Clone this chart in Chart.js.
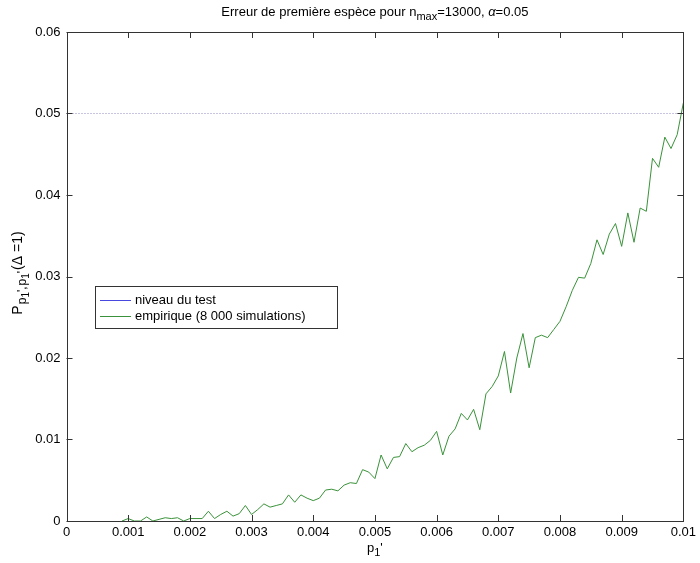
<!DOCTYPE html>
<html>
<head>
<meta charset="utf-8">
<script src="https://cdn.jsdelivr.net/npm/chart.js@4.4.1/dist/chart.umd.min.js"></script>
<style>
  html, body { margin: 0; padding: 0; background: #ffffff; }
  #wrap { width: 700px; height: 563px; position: relative; }
</style>
</head>
<body>
<div id="wrap"><canvas id="c" width="700" height="563"></canvas></div>
<script>
// ---- data ----
const pValues = [
  0.0009, 0.0010, 0.0011, 0.0012, 0.0013, 0.0014, 0.0015, 0.0016, 0.0017, 0.0018,
  0.0019, 0.0020, 0.0021, 0.0022, 0.0023, 0.0024, 0.0025, 0.0026, 0.0027, 0.0028,
  0.0029, 0.0030, 0.0031, 0.0032, 0.0033, 0.0034, 0.0035, 0.0036, 0.0037, 0.0038,
  0.0039, 0.0040, 0.0041, 0.0042, 0.0043, 0.0044, 0.0045, 0.0046, 0.0047, 0.0048,
  0.0049, 0.0050, 0.0051, 0.0052, 0.0053, 0.0054, 0.0055, 0.0056, 0.0057, 0.0058,
  0.0059, 0.0060, 0.0061, 0.0062, 0.0063, 0.0064, 0.0065, 0.0066, 0.0067, 0.0068,
  0.0069, 0.0070, 0.0071, 0.0072, 0.0073, 0.0074, 0.0075, 0.0076, 0.0077, 0.0078,
  0.0079, 0.0080, 0.0081, 0.0082, 0.0083, 0.0084, 0.0085, 0.0086, 0.0087, 0.0088,
  0.0089, 0.0090, 0.0091, 0.0092, 0.0093, 0.0094, 0.0095, 0.0096, 0.0097, 0.0098,
  0.0099, 0.0100
];
const empirique = [
  0.0000, 0.0003, 0.0000, 0.0000, 0.0005, 0.0000, 0.0002, 0.0004, 0.0003, 0.0004,
  0.0000, 0.0003, 0.0003, 0.0003, 0.0012, 0.0003, 0.0008, 0.0012, 0.0006, 0.0009,
  0.0019, 0.0008, 0.0014, 0.0021, 0.0017, 0.0019, 0.0021, 0.0032, 0.0023, 0.0032,
  0.0028, 0.0025, 0.0028, 0.0038, 0.0039, 0.0037, 0.0044, 0.0047, 0.0046, 0.0063,
  0.0060, 0.0052, 0.0081, 0.0064, 0.0078, 0.0079, 0.0095, 0.0085, 0.0090, 0.0093,
  0.0099, 0.0110, 0.0081, 0.0104, 0.0113, 0.0132, 0.0124, 0.0137, 0.0112, 0.0156,
  0.0165, 0.0178, 0.0208, 0.0157, 0.0200, 0.0230, 0.0188, 0.0225, 0.0228, 0.0225,
  0.0235, 0.0245, 0.0263, 0.0283, 0.0299, 0.0298, 0.0316, 0.0345, 0.0327, 0.0352,
  0.0365, 0.0337, 0.0378, 0.0342, 0.0384, 0.0380, 0.0445, 0.0434, 0.0471, 0.0457,
  0.0474, 0.0513
];
const niveauX = [0, 0.01];
const niveauY = [0.05, 0.05];
const seriesLabels = ['niveau du test', 'empirique (8 000 simulations)'];
const xTickValues = [0, 0.001, 0.002, 0.003, 0.004, 0.005, 0.006, 0.007, 0.008, 0.009, 0.01];
const xTickLabels = ['0', '0.001', '0.002', '0.003', '0.004', '0.005', '0.006', '0.007', '0.008', '0.009', '0.01'];
const yTickValues = [0, 0.01, 0.02, 0.03, 0.04, 0.05, 0.06];
const yTickLabels = ['0', '0.01', '0.02', '0.03', '0.04', '0.05', '0.06'];

const FONT = "'Liberation Sans', Arial, Helvetica, sans-serif";
const AXIS_COLOR = '#333333';

function drawRuns(ctx, runs, cx, baseY) {
  let total = 0;
  runs.forEach(r => { ctx.font = r.font; total += ctx.measureText(r.text).width + (r.gap || 0); });
  let x = cx - total / 2;
  ctx.textAlign = 'left';
  ctx.textBaseline = 'alphabetic';
  runs.forEach(r => {
    ctx.font = r.font;
    ctx.fillText(r.text, x, baseY + (r.dy || 0));
    x += ctx.measureText(r.text).width + (r.gap || 0);
  });
}

const decorPlugin = {
  id: 'decor',
  afterDraw(chart) {
    const ctx = chart.ctx;
    const a = chart.chartArea;
    const xs = chart.scales.x, ys = chart.scales.y;
    ctx.save();
    // box
    ctx.strokeStyle = AXIS_COLOR;
    ctx.lineWidth = 1;
    ctx.strokeRect(Math.round(a.left) + 0.5, Math.round(a.top) + 0.5,
                   Math.round(a.right) - Math.round(a.left), Math.round(a.bottom) - Math.round(a.top));
    // inward ticks
    const TL = 6;
    ctx.beginPath();
    xTickValues.forEach(v => {
      const px = Math.round(xs.getPixelForValue(v)) + 0.5;
      ctx.moveTo(px, a.bottom); ctx.lineTo(px, a.bottom - TL);
      ctx.moveTo(px, a.top); ctx.lineTo(px, a.top + TL);
    });
    yTickValues.forEach(v => {
      const py = Math.round(ys.getPixelForValue(v)) + 0.5;
      ctx.moveTo(a.left, py); ctx.lineTo(a.left + TL, py);
      ctx.moveTo(a.right, py); ctx.lineTo(a.right - TL, py);
    });
    ctx.stroke();

    ctx.fillStyle = '#000';
    const cx = (a.left + a.right) / 2;
    // title
    drawRuns(ctx, [
      { text: 'Erreur de première espèce pour n', font: '13px ' + FONT },
      { text: 'max', font: '11px ' + FONT, dy: 4 },
      { text: '=13000, ', font: '13px ' + FONT },
      { text: 'α', font: 'italic 13px ' + FONT },
      { text: '=0.05', font: '13px ' + FONT }
    ], cx, 16);
    // x label
    drawRuns(ctx, [
      { text: 'p', font: '13px ' + FONT },
      { text: '1', font: '11px ' + FONT, dy: 4 },
      { text: "'", font: '13px ' + FONT }
    ], cx, 552);
    // y label (rotated)
    ctx.save();
    ctx.translate(22, 273);
    ctx.rotate(-Math.PI / 2);
    drawRuns(ctx, [
      { text: 'P', font: '14px ' + FONT, gap: 1 },
      { text: 'p', font: '12px ' + FONT, dy: 4 },
      { text: '1', font: '10px ' + FONT, dy: 7 },
      { text: "',", font: '12px ' + FONT, dy: 4, gap: 1 },
      { text: 'p', font: '12px ' + FONT, dy: 4 },
      { text: '1', font: '10px ' + FONT, dy: 7 },
      { text: "'", font: '12px ' + FONT, dy: 4, gap: 1 },
      { text: '(Δ =1)', font: '14px ' + FONT }
    ], 0, 0);
    ctx.restore();

    // legend
    const lx = 95.5, ly = 286.5, lw = 242, lh = 42;
    ctx.fillStyle = '#fff';
    ctx.fillRect(lx, ly, lw, lh);
    ctx.strokeStyle = AXIS_COLOR;
    ctx.strokeRect(lx, ly, lw, lh);
    chart.data.datasets.forEach((ds, i) => {
      const yy = 300.5 + i * 16;
      ctx.strokeStyle = ds.legendColor;
      ctx.lineWidth = 1;
      ctx.beginPath();
      ctx.moveTo(100, yy); ctx.lineTo(131, yy);
      ctx.stroke();
      ctx.fillStyle = '#000';
      ctx.font = '13px ' + FONT;
      ctx.textAlign = 'left';
      ctx.textBaseline = 'middle';
      ctx.fillText(ds.label, 135, yy);
    });
    ctx.restore();
  }
};

new Chart(document.getElementById('c'), {
  type: 'line',
  data: {
    datasets: [
      {
        label: seriesLabels[0],
        data: niveauX.map((x, i) => ({ x: x, y: niveauY[i] })),
        borderColor: '#8c8cc4',
        legendColor: '#4848e0',
        borderWidth: 1,
        borderDash: [1, 2],
        pointRadius: 0,
        fill: false
      },
      {
        label: seriesLabels[1],
        data: pValues.map((x, i) => ({ x: x, y: empirique[i] })),
        borderColor: '#3a923a',
        legendColor: '#3a923a',
        borderWidth: 1,
        pointRadius: 0,
        tension: 0,
        fill: false
      }
    ]
  },
  options: {
    responsive: false,
    animation: false,
    events: [],
    layout: { padding: { top: 32, right: 13, left: 0, bottom: 0 } },
    plugins: { legend: { display: false }, title: { display: false }, tooltip: { enabled: false } },
    scales: {
      x: {
        type: 'linear', min: 0, max: 0.01,
        afterFit: s => { s.height = 42; },
        afterBuildTicks: s => { s.ticks = xTickValues.map(v => ({ value: v })); },
        grid: { display: false, drawTicks: false },
        border: { display: false },
        ticks: {
          autoSkip: false, maxRotation: 0, padding: 4, color: '#000',
          font: { family: FONT, size: 13 },
          callback: (v, i) => xTickLabels[i]
        }
      },
      y: {
        type: 'linear', min: 0, max: 0.06,
        afterFit: s => { s.width = 66.5; },
        afterBuildTicks: s => { s.ticks = yTickValues.map(v => ({ value: v })); },
        grid: { display: false, drawTicks: false },
        border: { display: false },
        ticks: {
          autoSkip: false, padding: 6, color: '#000',
          font: { family: FONT, size: 13 },
          callback: (v, i) => yTickLabels[i]
        }
      }
    }
  },
  plugins: [decorPlugin]
});
</script>
</body>
</html>
